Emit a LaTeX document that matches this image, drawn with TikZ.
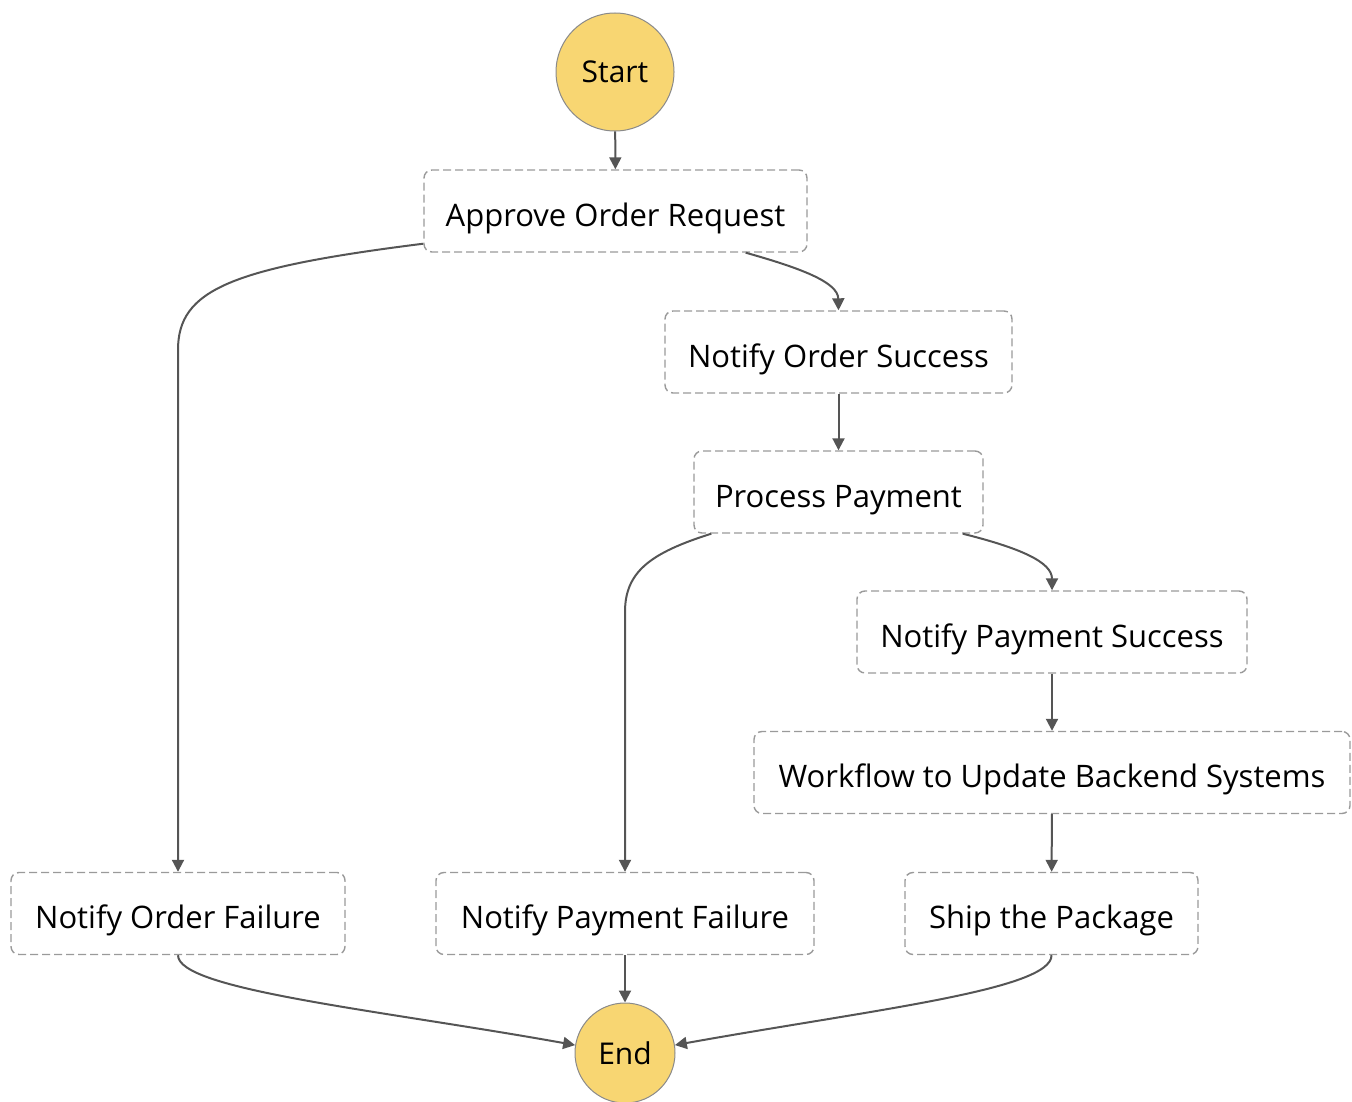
\documentclass[tikz,border=0pt]{standalone}
\usepackage{fontspec}
\setmainfont{Open Sans}
\usetikzlibrary{arrows.meta,calc}
\definecolor{termfill}{HTML}{F8D672}
\definecolor{termdraw}{HTML}{8A8A8A}
\definecolor{boxdraw}{HTML}{9A9A9A}
\definecolor{edgecol}{HTML}{555555}
\begin{document}
\begin{tikzpicture}[x=1pt,y=-1pt,
  term/.style={circle,fill=termfill,draw=termdraw,line width=1pt,inner sep=0pt,font=\fontsize{30}{34}\selectfont},
  state/.style={rectangle,rounded corners=8pt,draw=boxdraw,line width=1.4pt,dash pattern=on 8pt off 4pt,minimum height=82pt,inner sep=0pt,text height=30pt,text depth=0pt,font=\fontsize{31}{36}\selectfont},
  edge/.style={draw=edgecol,line width=2pt,-{Triangle[length=12pt,width=12pt]}}]
\useasboundingbox (0,0) rectangle (1352,1102);
\node[term,minimum size=118pt] (start) at (615,72) {Start};
\node[state,minimum width=383pt] (aor) at (615.5,211) {Approve Order Request};
\node[state,minimum width=347pt] (nos) at (838.5,352) {Notify Order Success};
\node[state,minimum width=289pt] (pp) at (838.5,492) {Process Payment};
\node[state,minimum width=390pt] (nps) at (1052,632) {Notify Payment Success};
\node[state,minimum width=596pt] (wf) at (1052,772.5) {Workflow to Update Backend Systems};
\node[state,minimum width=334pt] (nof) at (178,913.5) {Notify Order Failure};
\node[state,minimum width=378pt] (npf) at (625,913.5) {Notify Payment Failure};
\node[state,minimum width=293pt] (ship) at (1051.5,913.5) {Ship the Package};
\node[term,minimum size=100pt] (end) at (625,1053) {End};

\draw[edge] (start) -- (aor);
\draw[edge] ($(aor.south east)+(-62,0)$) .. controls (800,268) and (838,282) .. (nos.north);
\draw[edge] ($(aor.south west)+(0,-9)$) .. controls (230,268) and (178,290) .. (178,350) -- (nof.north);
\draw[edge] (nos) -- (pp);
\draw[edge] ($(pp.south east)+(-21,0)$) .. controls (1020,548) and (1052,562) .. (nps.north);
\draw[edge] ($(pp.south west)+(18,0)$) .. controls (650,553) and (625,572) .. (625,612) -- (npf.north);
\draw[edge] (nps) -- (wf);
\draw[edge] (wf) -- (ship);
\draw[edge] (nof.south) .. controls (178,990) and (380,1010) .. (end.171);
\draw[edge] (npf) -- (end);
\draw[edge] (ship.south) .. controls (1052,990) and (870,1010) .. (end.9);
\end{tikzpicture}
\end{document}
